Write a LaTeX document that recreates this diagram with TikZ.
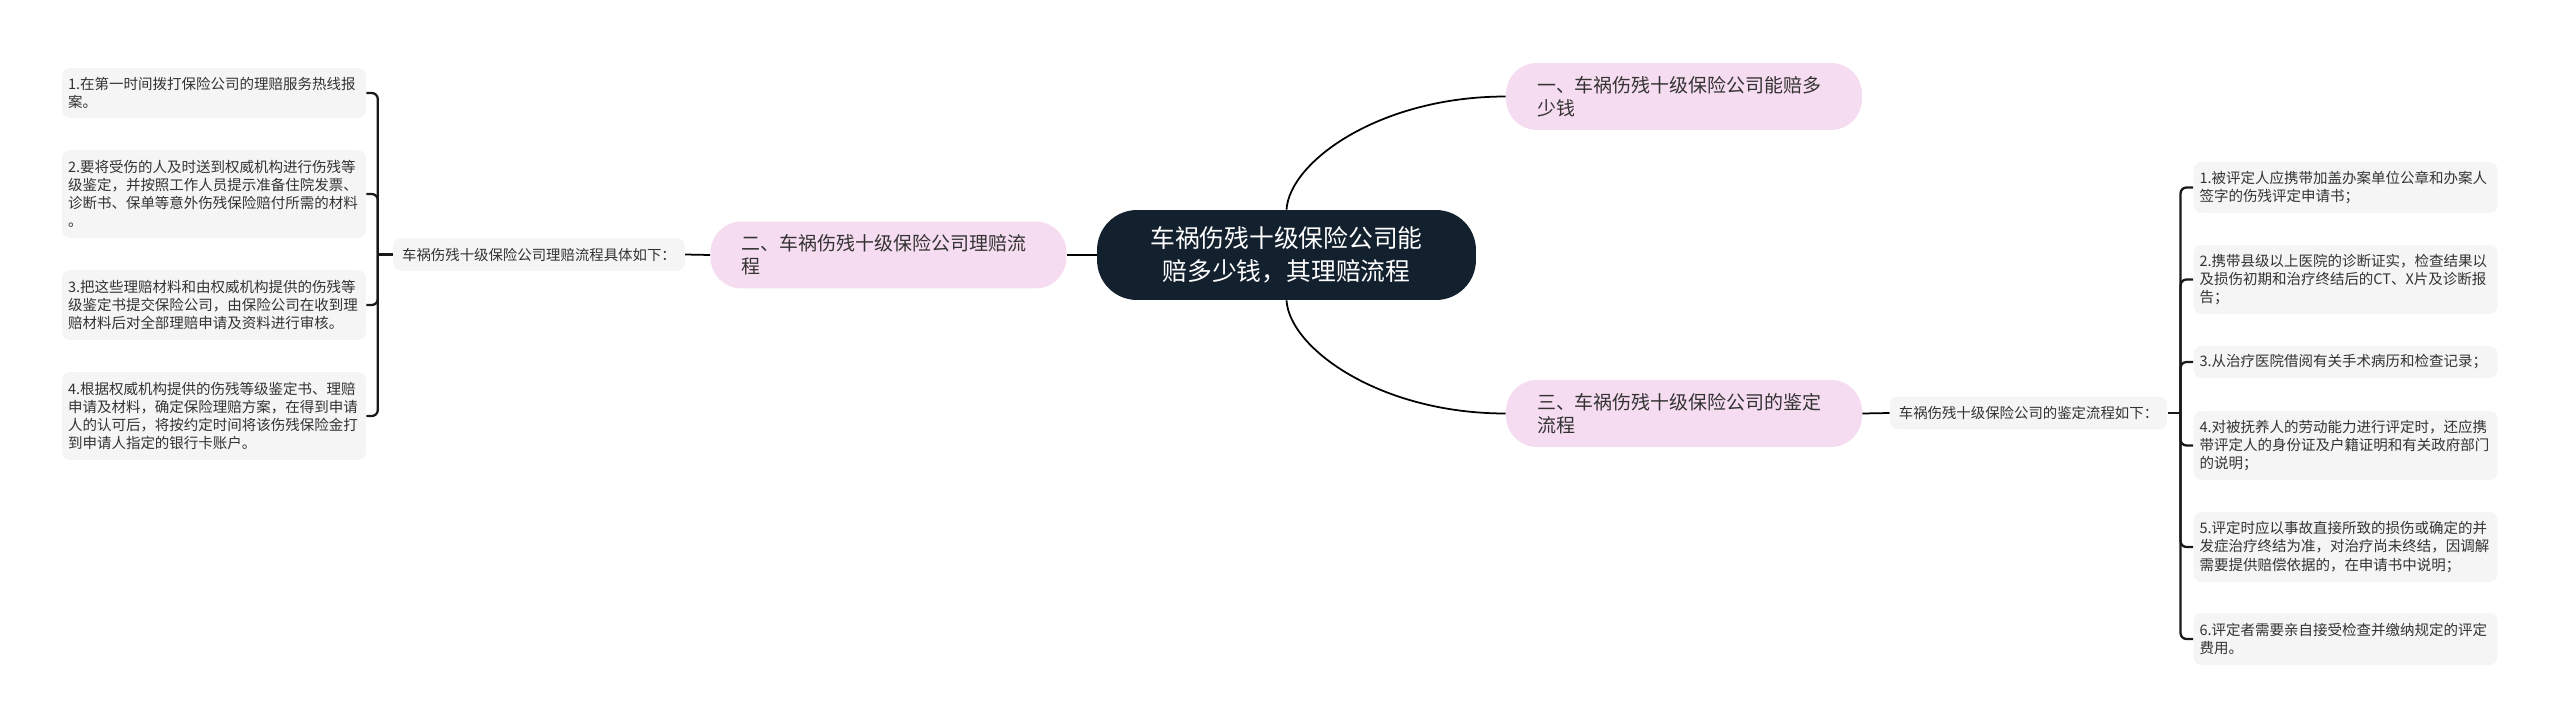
\documentclass[tikz,border=0pt]{standalone}
\usepackage{fontspec}
\setmainfont{Noto Sans CJK SC}
\usepackage{tikz}
\usetikzlibrary{calc}

\definecolor{rootfill}{HTML}{13202E}
\definecolor{branchfill}{HTML}{F6DCF0}
\definecolor{leaffill}{HTML}{F5F5F5}
\definecolor{inkgray}{HTML}{333333}

\begin{document}
\begin{tikzpicture}[
    x=0.02cm,
    y=-0.02cm,
    root/.style={
        fill=rootfill,
        text=white,
        rounded corners=0.8cm,
        align=center,
        minimum width=7.58cm,
        minimum height=1.8cm,
        font=\fontsize{14.1}{18.8}\selectfont
    },
    branch/.style={
        fill=branchfill,
        text=inkgray,
        rounded corners=0.62cm,
        align=left,
        text width=5.88cm,
        inner xsep=0.62cm,
        minimum height=1.34cm,
        font=\fontsize{10.8}{13.1}\selectfont
    },
    leaf/.style={
        fill=leaffill,
        text=inkgray,
        rounded corners=0.16cm,
        align=left,
        text width=5.84cm,
        inner xsep=0.12cm,
        font=\fontsize{8.25}{10.3}\selectfont
    },
    caption/.style={
        fill=leaffill,
        text=inkgray,
        rounded corners=0.16cm,
        inner xsep=0.18cm,
        minimum height=0.65cm,
        font=\fontsize{8.2}{10.3}\selectfont
    },
    link/.style={
        draw=black,
        line width=1pt
    },
    brace/.style={
        draw=black!90,
        line width=1.3pt,
        rounded corners=0.12cm
    }
]

\useasboundingbox (0,0) rectangle (2560,727);

% ------------------------------------------------
% Centre and main branches
% ------------------------------------------------

\node[root] (root) at (1286.5, 255)
    {车祸伤残十级保险公司能\\赔多少钱，其理赔流程};

\node[branch] (b1) at (1684, 96.5)
    {一、车祸伤残十级保险公司能赔多\\少钱};

\node[branch] (b2) at (888.5, 255)
    {二、车祸伤残十级保险公司理赔流\\程};

\node[branch] (b3) at (1684, 413.5)
    {三、车祸伤残十级保险公司的鉴定\\流程};

% ------------------------------------------------
% Claim procedure (left)
% ------------------------------------------------

\node[caption] (capL) at (539, 254.5)
    {车祸伤残十级保险公司理赔流程具体如下：};

\node[leaf, minimum height=1.0cm] (l1) at (214, 93)
    {1.在第一时间拨打保险公司的理赔服务热线报\\案。};

\node[leaf, minimum height=1.76cm] (l2) at (214, 194)
    {2.要将受伤的人及时送到权威机构进行伤残等\\级鉴定，并按照工作人员提示准备住院发票、\\诊断书、保单等意外伤残保险赔付所需的材料\\。};

\node[leaf, minimum height=1.4cm] (l3) at (214, 305)
    {3.把这些理赔材料和由权威机构提供的伤残等\\级鉴定书提交保险公司，由保险公司在收到理\\赔材料后对全部理赔申请及资料进行审核。};

\node[leaf, minimum height=1.76cm] (l4) at (214, 416)
    {4.根据权威机构提供的伤残等级鉴定书、理赔\\申请及材料，确定保险理赔方案，在得到申请\\人的认可后，将按约定时间将该伤残保险金打\\到申请人指定的银行卡账户。};

% ------------------------------------------------
% Assessment procedure (right)
% ------------------------------------------------

\node[caption] (capR) at (2028.5, 413)
    {车祸伤残十级保险公司的鉴定流程如下：};

\node[leaf, minimum height=1.02cm] (r1) at (2345.5, 187.5)
    {1.被评定人应携带加盖办案单位公章和办案人\\签字的伤残评定申请书；};

\node[leaf, minimum height=1.38cm] (r2) at (2345.5, 279.5)
    {2.携带县级以上医院的诊断证实，检查结果以\\及损伤初期和治疗终结后的CT、X片及诊断报\\告；};

\node[leaf, minimum height=0.64cm] (r3) at (2345.5, 362)
    {3.从治疗医院借阅有关手术病历和检查记录；};

\node[leaf, minimum height=1.38cm] (r4) at (2345.5, 445.5)
    {4.对被抚养人的劳动能力进行评定时，还应携\\带评定人的身份证及户籍证明和有关政府部门\\的说明；};

\node[leaf, minimum height=1.4cm] (r5) at (2345.5, 547)
    {5.评定时应以事故直接所致的损伤或确定的并\\发症治疗终结为准，对治疗尚未终结，因调解\\需要提供赔偿依据的，在申请书中说明；};

\node[leaf, minimum height=1.04cm] (r6) at (2345.5, 639)
    {6.评定者需要亲自接受检查并缴纳规定的评定\\费用。};

% ------------------------------------------------
% Connections
% ------------------------------------------------

% Centre -> branches
\draw[link] (root.north) .. controls +(3,-48) and +(-126,0) .. (b1.west);
\draw[link] (root.south) .. controls +(3,48) and +(-126,0) .. (b3.west);
\draw[link] (root.west) -- (b2.east);

% Branches -> captions
\draw[link] (b2.west) -- (capL.east);
\draw[link] (b3.east) -- (capR.west);

% Left bracket
\coordinate (jL) at ($(capL.west)+(-15,0)$);
\draw[brace] (capL.west) -- (jL);
\foreach \n in {l1,l2,l3,l4}
    \draw[brace] (jL) |- (\n.east);

% Right bracket
\coordinate (jR) at ($(capR.east)+(13,0)$);
\draw[brace] (capR.east) -- (jR);
\foreach \n in {r1,r2,r3,r4,r5,r6}
    \draw[brace] (jR) |- (\n.west);

\end{tikzpicture}
\end{document}
